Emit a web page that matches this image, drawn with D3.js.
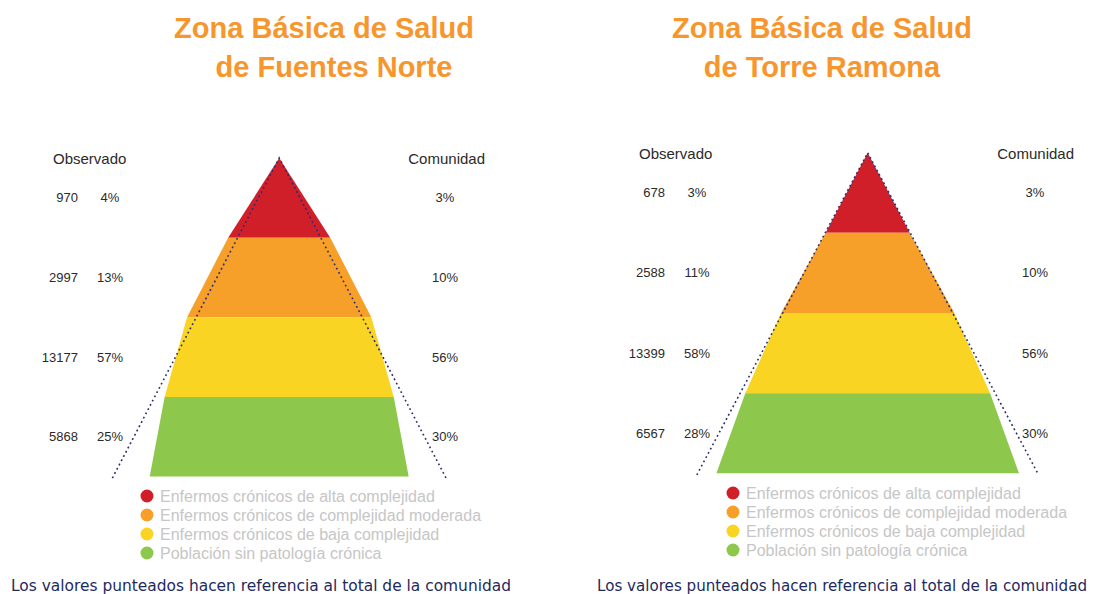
<!DOCTYPE html>
<html>
<head>
<meta charset="utf-8">
<script src="https://cdn.jsdelivr.net/npm/d3@7"></script>
<style>
  body { margin: 0; background: #fff; }
  svg { display: block; }
</style>
</head>
<body>
<script>
// chart size
var svgWidth = 1104;
var svgHeight = 594;

// legend / band categories (top to bottom)
var categorias = [
  "Enfermos crónicos de alta complejidad",
  "Enfermos crónicos de complejidad moderada",
  "Enfermos crónicos de baja complejidad",
  "Población sin patología crónica"
];

// Fuentes Norte
var observadoFN = [970, 2997, 13177, 5868];
var pctFN = [4, 13, 57, 25];
var comunidadFN = [3, 10, 56, 30];
// width of the observed shape at the bottom of each band, relative to the community outline
var anchoFN = [1.23, 1.11, 0.92, 0.78];

// Torre Ramona
var observadoTR = [678, 2588, 13399, 6567];
var pctTR = [3, 11, 58, 28];
var comunidadTR = [3, 10, 56, 30];
var anchoTR = [0.99, 1.02, 0.96, 0.89];

var colores = ["#d11f29", "#f6a02a", "#f9d422", "#8dc74b"];

var svg = d3.select("body")
  .append("svg")
  .attr("width", svgWidth)
  .attr("height", svgHeight);

var fontLabel = "'Liberation Sans', Arial, sans-serif";

function drawPyramid(cfg) {
  var g = svg.append("g");

  // title
  var title = g.append("text")
    .attr("fill", "#f7962d")
    .attr("font-family", fontLabel)
    .attr("font-weight", "bold")
    .attr("font-size", 29)
    .attr("text-anchor", "middle");
  title.append("tspan").attr("x", cfg.titleX[0]).attr("y", 37.5).text(cfg.title[0]);
  title.append("tspan").attr("x", cfg.titleX[1]).attr("y", 76.5).text(cfg.title[1]);

  // scales: level 0 = apex, level 4 = base
  var y = d3.scaleLinear().domain([0, 4]).range([cfg.apexY, cfg.baseY]);
  var hw = d3.scaleLinear().domain([0, 4]).range([0, cfg.halfBase]);

  var line = d3.line().x(d => d[0]).y(d => d[1]);

  // bands
  var bands = cfg.obs.map(function(v, i) {
    var topHalf = i === 0 ? 0 : hw(i) * cfg.ancho[i - 1];
    var botHalf = hw(i + 1) * cfg.ancho[i];
    return [
      [cfg.cx - topHalf, y(i)],
      [cfg.cx + topHalf, y(i)],
      [cfg.cx + botHalf, y(i + 1)],
      [cfg.cx - botHalf, y(i + 1)],
      [cfg.cx - topHalf, y(i)]
    ];
  });

  g.selectAll("path.band")
    .data(bands)
    .enter()
    .append("path")
    .attr("class", "band")
    .attr("d", d => line(d))
    .attr("fill", (d, i) => colores[i]);

  // community reference outline (dotted)
  var end = 4.02;
  g.append("path")
    .attr("d", line([
      [cfg.cx - hw(end), y(end)],
      [cfg.cx, y(0)],
      [cfg.cx + hw(end), y(end)]
    ]))
    .attr("fill", "none")
    .attr("stroke", "#2b2d6e")
    .attr("stroke-width", 1.6)
    .attr("stroke-dasharray", "1.8,3");

  // headers
  g.append("text")
    .attr("x", cfg.obsHeadX)
    .attr("y", cfg.headY)
    .attr("font-family", fontLabel)
    .attr("font-size", 15)
    .attr("fill", "#2a2a2a")
    .text("Observado");
  g.append("text")
    .attr("x", cfg.comHeadX)
    .attr("y", cfg.headY)
    .attr("font-family", fontLabel)
    .attr("font-size", 15)
    .attr("fill", "#2a2a2a")
    .attr("text-anchor", "end")
    .text("Comunidad");

  // row labels
  var mid = i => y(i + 0.5) + 4.5;
  g.selectAll("text.num")
    .data(cfg.obs)
    .enter()
    .append("text")
    .attr("class", "num")
    .attr("x", cfg.numX)
    .attr("y", (d, i) => mid(i))
    .attr("text-anchor", "end")
    .attr("font-family", fontLabel)
    .attr("font-size", 13)
    .attr("fill", "#2a2a2a")
    .text(d => d);
  g.selectAll("text.pct")
    .data(cfg.pct)
    .enter()
    .append("text")
    .attr("class", "pct")
    .attr("x", cfg.pctX)
    .attr("y", (d, i) => mid(i))
    .attr("text-anchor", "middle")
    .attr("font-family", fontLabel)
    .attr("font-size", 13)
    .attr("fill", "#2a2a2a")
    .text(d => d + "%");
  g.selectAll("text.com")
    .data(cfg.com)
    .enter()
    .append("text")
    .attr("class", "com")
    .attr("x", cfg.comX)
    .attr("y", (d, i) => mid(i))
    .attr("text-anchor", "middle")
    .attr("font-family", fontLabel)
    .attr("font-size", 13)
    .attr("fill", "#2a2a2a")
    .text(d => d + "%");

  // legend
  var leg = g.selectAll("g.leg")
    .data(categorias)
    .enter()
    .append("g")
    .attr("class", "leg")
    .attr("transform", (d, i) => `translate(${cfg.legX}, ${cfg.legY + i * 19})`);
  leg.append("circle")
    .attr("r", 6.5)
    .attr("fill", (d, i) => colores[i]);
  leg.append("text")
    .attr("x", 13)
    .attr("y", 5.5)
    .attr("font-family", fontLabel)
    .attr("font-size", 16)
    .attr("fill", "#c6c6c6")
    .text(d => d);

  // footnote
  g.append("text")
    .attr("x", cfg.noteX)
    .attr("y", 591)
    .attr("font-family", "'DejaVu Sans', Verdana, sans-serif")
    .attr("font-size", 15)
    .attr("fill", "#1e2a5e")
    .attr("textLength", cfg.noteW)
    .attr("lengthAdjust", "spacingAndGlyphs")
    .text("Los valores punteados hacen referencia al total de la comunidad");
}

drawPyramid({
  title: ["Zona Básica de Salud", "de Fuentes Norte"],
  titleX: [324, 334],
  cx: 279.2, apexY: 158, baseY: 476.5, halfBase: 166,
  obs: observadoFN, pct: pctFN, com: comunidadFN, ancho: anchoFN,
  headY: 164, obsHeadX: 53, comHeadX: 485,
  numX: 78, pctX: 110, comX: 445,
  legX: 147, legY: 496,
  noteX: 11, noteW: 500
});

drawPyramid({
  title: ["Zona Básica de Salud", "de Torre Ramona"],
  titleX: [822, 822],
  cx: 867.7, apexY: 152.7, baseY: 473.3, halfBase: 170,
  obs: observadoTR, pct: pctTR, com: comunidadTR, ancho: anchoTR,
  headY: 159, obsHeadX: 639, comHeadX: 1074,
  numX: 665, pctX: 697, comX: 1035,
  legX: 733, legY: 493,
  noteX: 597, noteW: 490
});
</script>
</body>
</html>
